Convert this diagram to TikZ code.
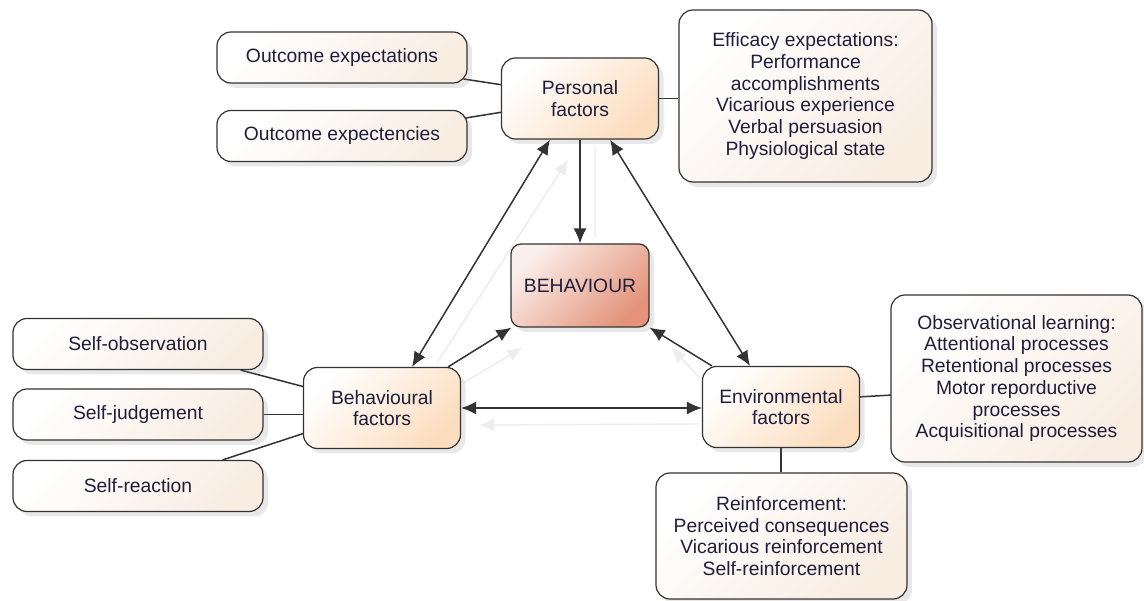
\documentclass[tikz,border=0pt]{standalone}
\usepackage{fontspec}
\setmainfont{Liberation Sans}
\usetikzlibrary{arrows.meta,calc,shadows,backgrounds}
\definecolor{txt}{HTML}{1E1E3C}
\definecolor{peach}{HTML}{FCDDBE}
\definecolor{cream}{HTML}{F9EDE2}
\definecolor{rosy}{HTML}{E4937A}
\definecolor{line}{HTML}{333333}
\tikzset{
  base/.style={draw=line, line width=1.2pt, rounded corners=14pt, inner sep=0pt, align=center,
    text=txt, font=\fontsize{19.3}{21.7}\selectfont,
    drop shadow={shadow xshift=5pt, shadow yshift=-5pt, opacity=0.18, fill=gray}},
  factor/.style={base, minimum width=157pt, minimum height=81pt, top color=white, bottom color=peach, shading angle=45},
  infobox/.style={base, minimum width=250pt, minimum height=51pt, top color=white, bottom color=cream, shading angle=45},
  behbox/.style={base, rounded corners=10pt, minimum width=138pt, minimum height=83pt, top color=white!85!rosy, bottom color=rosy, shading angle=45},
  conn/.style={draw=line, line width=1.5pt},
  arr/.style={conn, -{Latex[length=15pt,width=13pt]}},
  darr/.style={conn, {Latex[length=15pt,width=13pt]}-{Latex[length=15pt,width=13pt]}},
  ghost/.style={draw=gray!14, line width=1.4pt, -{Latex[length=15pt,width=13pt]}}
}
\begin{document}
\begin{tikzpicture}[x=1pt,y=-1pt]
\useasboundingbox (0,0) rectangle (1144,601);
% factor nodes
\node[factor] (pf) at (580,98.5) {Personal\\factors};
\node[factor] (bf) at (382,408) {Behavioural\\factors};
\node[factor] (ef) at (781,407) {Environmental\\factors};
\node[behbox] (bh) at (580,285.5) {BEHAVIOUR};
% info boxes
\node[infobox] (oe1) at (342,57.5) {Outcome expectations};
\node[infobox] (oe2) at (342,136) {Outcome expectencies};
\node[infobox, minimum width=253pt, minimum height=172pt] (eff) at (805.5,96)
  {Efficacy expectations:\\Performance\\accomplishments\\Vicarious experience\\Verbal persuasion\\Physiological state};
\node[infobox] (so) at (138,344) {Self-observation};
\node[infobox] (sj) at (138,414.5) {Self-judgement};
\node[infobox] (sr) at (138,486) {Self-reaction};
\node[infobox, minimum width=251pt, minimum height=167pt] (obs) at (1016.5,378.5)
  {Observational learning:\\Attentional processes\\Retentional processes\\Motor reporductive\\processes\\Acquisitional processes};
\node[infobox, minimum width=251pt, minimum height=126pt] (rf) at (781.5,536)
  {Reinforcement:\\Perceived consequences\\Vicarious reinforcement\\Self-reinforcement};
\begin{pgfonlayer}{background}
\fill[white] (0,0) rectangle (1144,601);
% faint reflections
\draw[ghost] ($(bf.north)+(55,-4)$) -- ($(pf.south)+(-12,20)$);
\draw[ghost] ($(bf.east)+(2,-25)$) -- ($(bh.south west)+(12,20)$);
\draw[ghost] ($(ef.north west)+(-2,12)$) -- ($(bh.south east)+(22,20)$);
\draw[ghost] ($(ef.west)+(-2,17)$) -- ($(bf.east)+(18,17)$);
\draw[draw=gray!10, line width=1.3pt] ($(pf.south)+(15,6)$) -- ($(bh.north)+(15,-6)$);
% connectors to info boxes
\draw[conn] ($(oe1.east)+(-4,21.5)$) -- ($(pf.west)+(2,-13.5)$);
\draw[conn] ($(oe2.east)+(-2,-18)$) -- ($(pf.west)+(2,13.5)$);
\draw[conn] (pf.east) -- (pf.east -| eff.west);
\draw[conn] ($(so.south east)+(-23,0)$) -- ($(bf.west)+(2,-21)$);
\draw[conn] (sj.east) -- (sj.east -| bf.west);
\draw[conn] ($(sr.north east)+(-41,0)$) -- ($(bf.west)+(2,25)$);
\draw[conn] ($(ef.east)+(-2,-10)$) -- ($(obs.west)+(2,16.5)$);
\draw[conn] (ef.south) -- (ef.south |- rf.north);
\end{pgfonlayer}
% arrows
\draw[arr] (pf.south) -- (bh.north);
\draw[darr] ($(pf.south)+(-30,0)$) -- ($(bf.north)+(30,0)$);
\draw[darr] ($(pf.south)+(30,0)$) -- ($(ef.north)+(-31,0)$);
\draw[arr] ($(bf.north east)+(-13,0)$) -- ($(bh.south west)+(1,0)$);
\draw[arr] ($(ef.north west)+(10,0)$) -- (bh.south east);
\draw[darr] (bf.east) -- (bf.east -| ef.west);
\end{tikzpicture}
\end{document}
